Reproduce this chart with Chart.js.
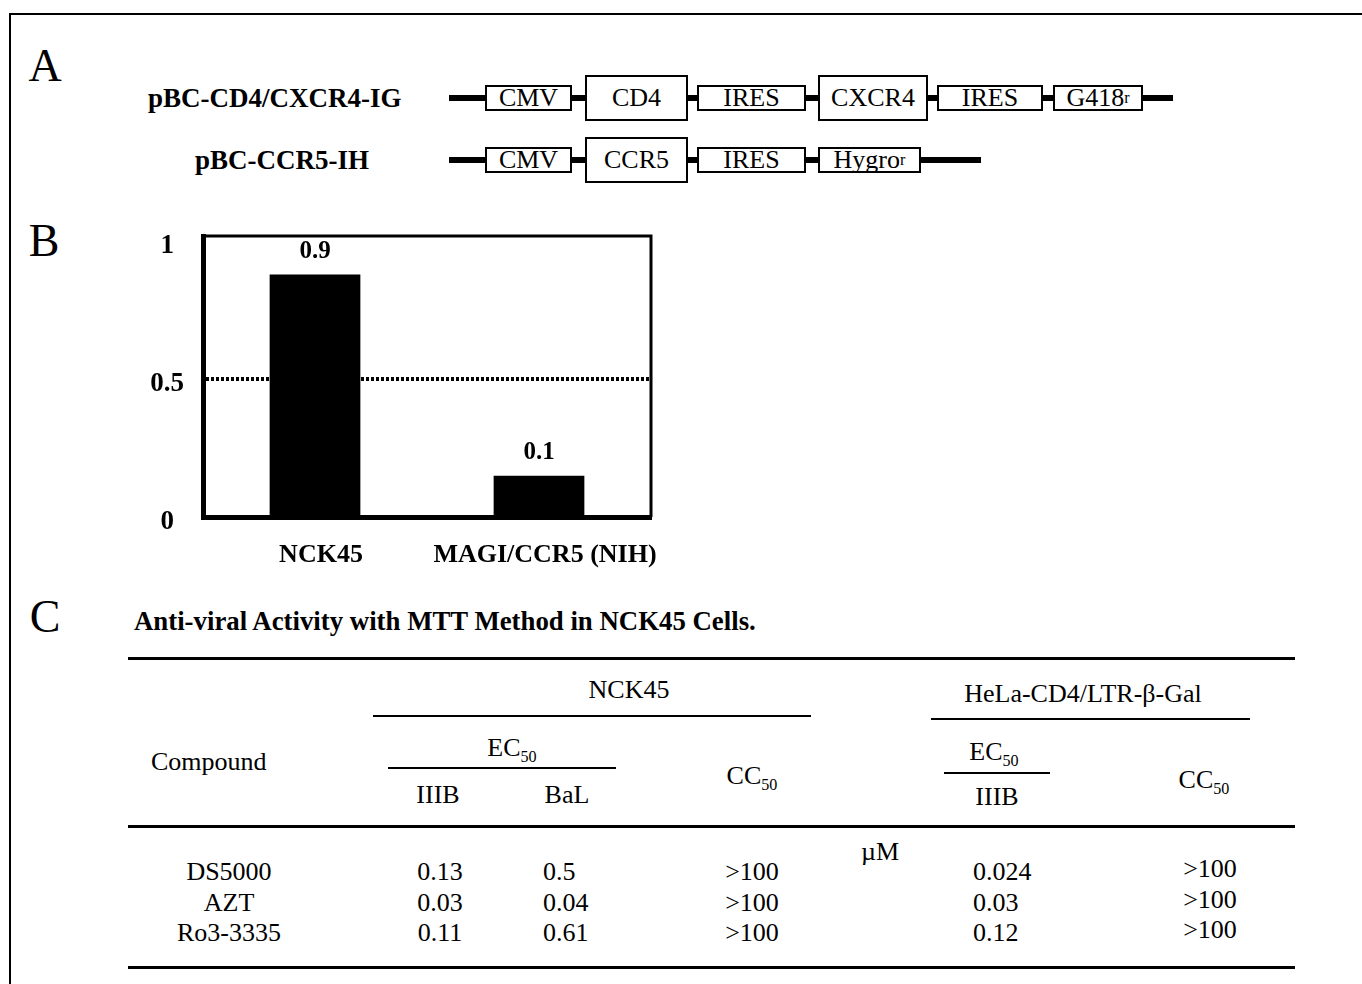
<!DOCTYPE html>
<html>
<head>
<meta charset="utf-8">
<script src="https://cdn.jsdelivr.net/npm/chart.js@4.4.1/dist/chart.umd.min.js"></script>
<style>
  html, body { margin: 0; padding: 0; background: #fff; }
  #page { position: relative; width: 1362px; height: 984px; overflow: hidden;
          font-family: "Liberation Serif", "Times New Roman", serif; color: #000; }
  #frame { position: absolute; left: 9px; top: 13px; width: 1400px; height: 1000px;
           border-left: 2px solid #000; border-top: 2px solid #000; }
  .t { position: absolute; white-space: nowrap; line-height: 1; }
  .b { font-weight: bold; }
  .hl { position: absolute; height: 0; border-top: 2px solid #000; }
  .bb { position: absolute; height: 6px; background: #000; }
  .box { position: absolute; box-sizing: border-box; border: 2px solid #000; background: #fff;
         display: flex; align-items: center; justify-content: center; font-size: 26px; line-height: 1; }
  #chartWrap { position: absolute; left: 121px; top: 200px; width: 580px; height: 390px; }
  sub { font-size: 62%; vertical-align: -0.35em; line-height: 0; }
  sup { font-size: 62%; vertical-align: 0.55em; line-height: 0; }
</style>
</head>
<body>
<div id="page">
  <div id="frame"></div>
  <div id="chartWrap"><canvas id="chart" width="580" height="390"></canvas></div>
</div>
<script>
// --- Panel B data ---
const categories = ["NCK45", "MAGI/CCR5 (NIH)"];
const ratios = [0.88, 0.15];
const ratioLabels = ["0.9", "0.1"];
const yTicks = [0, 0.5, 1];

// --- Panel A plasmids ---
const plasmidNames = ["pBC-CD4/CXCR4-IG", "pBC-CCR5-IH"];
const plasmid1Parts = ["CMV", "CD4", "IRES", "CXCR4", "IRES", "G418<sup>r</sup>"];
const plasmid2Parts = ["CMV", "CCR5", "IRES", "Hygro<sup>r</sup>"];

// --- Panel C table ---
const tableTitle = "Anti-viral Activity with MTT Method in NCK45 Cells.";
const compounds = ["DS5000", "AZT", "Ro3-3335"];
const nckIIIB = ["0.13", "0.03", "0.11"];
const nckBaL = ["0.5", "0.04", "0.61"];
const nckCC50 = [">100", ">100", ">100"];
const helaIIIB = ["0.024", "0.03", "0.12"];
const helaCC50 = [">100", ">100", ">100"];

const page = document.getElementById("page");

function place(html, x, y, opts = {}) {
  const d = document.createElement("div");
  d.className = "t" + (opts.bold ? " b" : "");
  d.innerHTML = html;
  d.style.left = x + "px";
  d.style.top = y + "px";
  d.style.fontSize = (opts.size || 26) + "px";
  d.style.transform = opts.left ? "translate(0,-50%)" : "translate(-50%,-50%)";
  page.appendChild(d);
}

function hline(x1, x2, y, w = 2) {
  const d = document.createElement("div");
  d.className = "hl";
  d.style.left = x1 + "px";
  d.style.width = (x2 - x1) + "px";
  d.style.top = y + "px";
  d.style.borderTopWidth = w + "px";
  page.appendChild(d);
}

// panel letters
place("A", 45, 66, { size: 46 });
place("B", 44, 241, { size: 46 });
place("C", 45, 617, { size: 46 });

// --- Panel A: plasmid maps ---
const row1Boxes = [[485, 572], [585, 688], [697, 806], [818, 928], [937, 1043], [1053, 1143]];
const row2Boxes = [[485, 572], [585, 688], [697, 806], [818, 921]];
const tallParts = ["CD4", "CXCR4", "CCR5"];

function drawPlasmid(name, nameX, parts, boxes, cy, endX) {
  place(name, nameX, cy, { bold: true, left: true, size: 27 });
  const bb = document.createElement("div");
  bb.className = "bb";
  bb.style.left = "449px";
  bb.style.width = (endX - 449) + "px";
  bb.style.top = (cy - 3) + "px";
  page.appendChild(bb);
  parts.forEach((p, i) => {
    const tall = tallParts.includes(p);
    const h = tall ? 46 : 26;
    const b = document.createElement("div");
    b.className = "box";
    b.innerHTML = p;
    b.style.left = boxes[i][0] + "px";
    b.style.width = (boxes[i][1] - boxes[i][0]) + "px";
    b.style.top = (cy - h / 2) + "px";
    b.style.height = h + "px";
    page.appendChild(b);
  });
}
drawPlasmid(plasmidNames[0], 148, plasmid1Parts, row1Boxes, 98, 1173);
drawPlasmid(plasmidNames[1], 195, plasmid2Parts, row2Boxes, 160, 981);

// --- Panel C: table ---
place(tableTitle, 134, 621, { bold: true, left: true, size: 26.8 });
hline(128, 1295, 657, 3);
place("NCK45", 629, 690);
hline(373, 811, 715);
place("HeLa-CD4/LTR-β-Gal", 1083, 694);
hline(931, 1250, 718);
place("Compound", 151, 762, { left: true });
place("EC<sub>50</sub>", 512, 748);
hline(388, 616, 767);
place("IIIB", 438, 795);
place("BaL", 567, 795);
place("CC<sub>50</sub>", 752, 776);
place("EC<sub>50</sub>", 994, 752);
hline(944, 1050, 772);
place("IIIB", 997, 797);
place("CC<sub>50</sub>", 1204, 780);
hline(128, 1295, 825, 3);
place("µM", 880, 852);
compounds.forEach((c, i) => {
  const y = 872 + i * 30.5;
  place(c, 229, y);
  place(nckIIIB[i], 440, y);
  place(nckBaL[i], 543, y, { left: true });
  place(nckCC50[i], 752, y);
  place(helaIIIB[i], 973, y, { left: true });
  place(helaCC50[i], 1210, y - 3);
});
hline(128, 1295, 966, 3);

// --- Panel B: bar chart ---
const barLabels = {
  id: "barLabels",
  afterDatasetsDraw(chart) {
    const ctx = chart.ctx;
    const meta = chart.getDatasetMeta(0);
    ctx.save();
    ctx.font = "bold 25px 'Liberation Serif'";
    ctx.fillStyle = "#000";
    ctx.textAlign = "center";
    ctx.textBaseline = "middle";
    meta.data.forEach((bar, i) => ctx.fillText(ratioLabels[i], bar.x, bar.y - 23));
    ctx.restore();
  }
};

// top and right sides of the plot box
const boxFrame = {
  id: "boxFrame",
  afterDraw(chart) {
    const { ctx, chartArea: a } = chart;
    ctx.save();
    ctx.strokeStyle = "#000";
    ctx.lineWidth = 3;
    ctx.beginPath();
    ctx.moveTo(a.left, a.top);
    ctx.lineTo(a.right, a.top);
    ctx.lineTo(a.right, a.bottom);
    ctx.stroke();
    ctx.restore();
  }
};

new Chart(document.getElementById("chart"), {
  type: "bar",
  data: {
    labels: categories,
    datasets: [{
      data: ratios,
      backgroundColor: "#000",
      barPercentage: 0.405,
      categoryPercentage: 1
    }]
  },
  options: {
    responsive: false,
    animation: false,
    layout: { padding: { top: 36, right: 50, left: 0, bottom: 0 } },
    plugins: { legend: { display: false }, tooltip: { enabled: false } },
    scales: {
      x: {
        grid: { display: false },
        border: { color: "#000", width: 5 },
        ticks: {
          color: "#000", font: { family: "Liberation Serif", size: 26, weight: "bold" },
          padding: 15, maxRotation: 0, minRotation: 0, autoSkip: false, labelOffset: 6
        },
        afterFit: s => { s.height = 73; }
      },
      y: {
        min: 0,
        max: 1.02,
        afterBuildTicks: s => { s.ticks = yTicks.map(v => ({ value: v })); },
        grid: {
          color: c => (c.tick && c.tick.value === 0.5 ? "#000" : "transparent"),
          lineWidth: 4,
          drawTicks: false
        },
        border: { color: "#000", width: 5, dash: [3, 2] },
        ticks: {
          color: "#000", font: { family: "Liberation Serif", size: 27, weight: "bold" },
          padding: 19, crossAlign: "center", labelOffset: 5, callback: v => String(v)
        },
        afterFit: s => { s.width = 82; }
      }
    }
  },
  plugins: [barLabels, boxFrame]
});
</script>
</body>
</html>
